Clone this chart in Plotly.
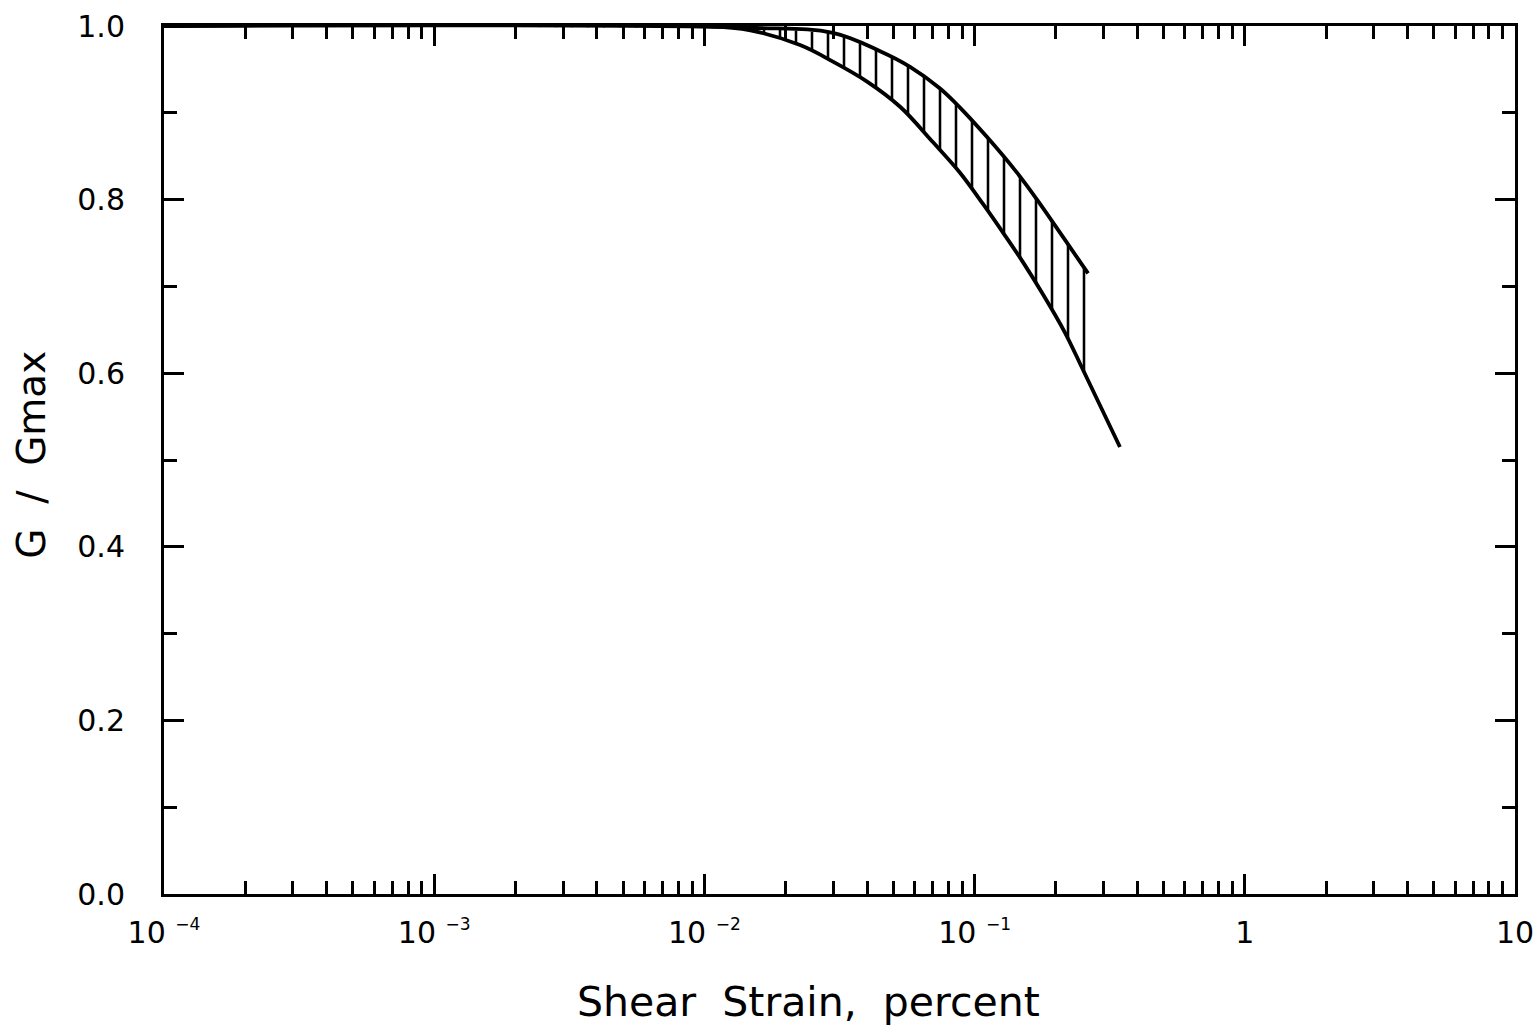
import plotly.graph_objects as go

# ---- data (shear strain in percent, G/Gmax) ----
strain_upper = [1e-4, 0.0148, 0.0299, 0.0447, 0.0577, 0.0745, 0.0883, 0.1112,
                0.1435, 0.1702, 0.2123, 0.2630]
g_upper = [1.0, 0.998, 0.992, 0.971, 0.953, 0.928, 0.906, 0.872,
           0.831, 0.800, 0.757, 0.715]

strain_lower = [1e-4, 0.0100, 0.0148, 0.0226, 0.0299, 0.0400, 0.0530, 0.0702,
                0.0883, 0.1074, 0.1300, 0.1510, 0.1790, 0.2150, 0.2518, 0.3451]
g_lower = [1.0, 1.0, 0.995, 0.978, 0.959, 0.936, 0.907, 0.866,
           0.831, 0.795, 0.758, 0.728, 0.691, 0.648, 0.604, 0.515]

# right-hand end of the hatched band (on the lower curve)
band_end_strain = 0.284
band_end_g = 0.570

x_major = [1e-4, 1e-3, 1e-2, 1e-1, 1, 10]
SUP = "<sup><span style='font-size:17px'>−%d</span></sup>"
x_labels = ["10 " + SUP % 4, "10 " + SUP % 3, "10 " + SUP % 2,
            "10 " + SUP % 1, "1", "10"]
y_major = [0.0, 0.2, 0.4, 0.6, 0.8, 1.0]
y_labels = ["0.0", "0.2", "0.4", "0.6", "0.8", "1.0"]
y_minor = [0.1, 0.3, 0.5, 0.7, 0.9]

x_title = "Shear\u00a0\u00a0Strain,\u00a0\u00a0percent"
y_title = "G\u00a0\u00a0/\u00a0\u00a0Gmax"

# minor tick positions 2..9 in each decade
x_minor = [m * d for d in x_major[:-1] for m in range(2, 10)]

# hatched band polygon built from the two curves
band_x = strain_upper + [band_end_strain] + [s for s in reversed(strain_lower) if s < band_end_strain]
band_y = g_upper + [band_end_g] + [g for s, g in zip(reversed(strain_lower), reversed(g_lower)) if s < band_end_strain]

FONT = "DejaVu Sans"

fig = go.Figure()
fig.add_trace(go.Scatter(
    x=band_x, y=band_y, mode="lines", fill="toself",
    line=dict(width=0, color="rgba(0,0,0,0)"),
    fillcolor="rgba(0,0,0,0)",
    fillpattern=dict(shape="|", fgcolor="black", bgcolor="rgba(0,0,0,0)",
                     size=16, solidity=0.16, fillmode="replace"),
    hoverinfo="skip", showlegend=False,
))
fig.add_trace(go.Scatter(x=strain_upper, y=g_upper, mode="lines",
                         line=dict(color="black", width=3.8, shape="spline", smoothing=1.0),
                         showlegend=False))
fig.add_trace(go.Scatter(x=strain_lower, y=g_lower, mode="lines",
                         line=dict(color="black", width=3.8, shape="spline", smoothing=1.0),
                         showlegend=False))

axis_common = dict(
    ticks="inside", ticklen=20, tickwidth=3, tickcolor="black",
    showline=True, linewidth=3, linecolor="black", mirror="ticks",
    showgrid=False, zeroline=False, automargin=False,
    tickfont=dict(family=FONT, size=30, color="black"),
)

fig.update_xaxes(
    type="log", range=[-4, 1], tickmode="array", tickvals=x_major, ticktext=x_labels,
    minor=dict(tickmode="array", tickvals=x_minor, ticks="inside", ticklen=13,
               tickwidth=2.5, tickcolor="black", showgrid=False),
    ticklabelstandoff=10,
    **axis_common,
)
fig.update_yaxes(
    range=[0, 1], tickmode="array", tickvals=y_major, ticktext=y_labels,
    minor=dict(tickmode="array", tickvals=y_minor, ticks="inside", ticklen=13,
               tickwidth=2.5, tickcolor="black", showgrid=False),
    ticklabelstandoff=30,
    **axis_common,
)

fig.add_annotation(text=x_title, xref="paper", yref="paper", x=0.477, y=-0.095,
                   xanchor="center", yanchor="top", showarrow=False,
                   font=dict(family=FONT, size=41, color="black"))
fig.add_annotation(text=y_title, xref="paper", yref="paper", x=-0.0977, y=0.506,
                   xanchor="center", yanchor="middle", textangle=-90, showarrow=False,
                   font=dict(family=FONT, size=39, color="black"))

fig.update_layout(
    width=1535, height=1025,
    margin=dict(l=164, r=20, t=26, b=131, autoexpand=False),
    paper_bgcolor="white", plot_bgcolor="white",
    showlegend=False,
)

fig.write_html("out.html", config={"displayModeBar": False},
               post_script="document.body.style.margin='0';document.body.style.overflow='hidden';")
